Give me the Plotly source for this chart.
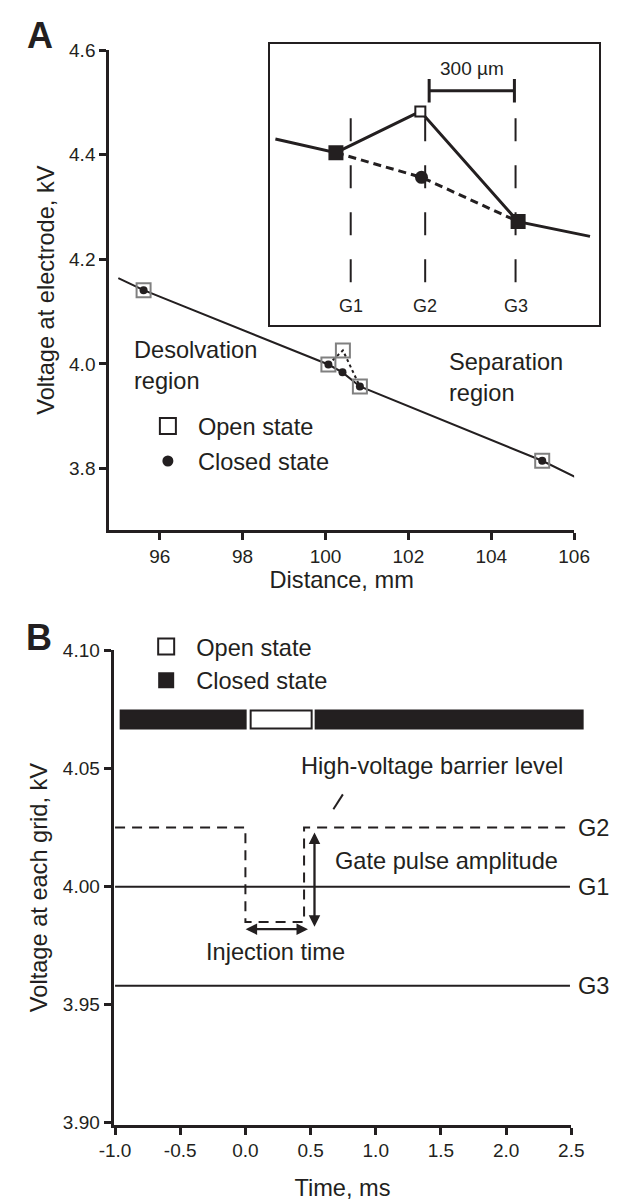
import plotly.graph_objects as go

W, H = 625, 1203
INK = "#231f20"
GRAY = "#808080"
FONT = "Liberation Sans, Arial, Helvetica, sans-serif"
FS = 23.6   # label text size
TFS = 19    # tick label size

# ---------------- Panel A data (distance, mm / voltage, kV) ----------------
a_line_x = [95.0, 95.61, 100.07, 100.41, 100.83, 105.23, 106.03]
a_line_y = [4.164, 4.141, 3.999, 3.984, 3.957, 3.815, 3.784]
a_open_x = [95.61, 100.07, 100.42, 100.83, 105.23]
a_open_y = [4.141, 3.999, 4.026, 3.957, 3.815]
a_closed_x = [95.61, 100.07, 100.41, 100.83, 105.23]
a_closed_y = [4.141, 3.999, 3.984, 3.957, 3.815]
a_gate_open_x = [100.07, 100.42, 100.83]
a_gate_open_y = [3.999, 4.026, 3.957]
a_xticks = [96, 98, 100, 102, 104, 106]
a_yticks = [3.8, 4.0, 4.2, 4.4, 4.6]

# ---------------- Inset data (position, um / relative level) ----------------
ins_solid_x = [-265, -52, 245, 589, 842]
ins_solid_y = [189, 175, 217, 105, 90]
ins_dash_x = [-52, 249, 589]
ins_dash_y = [175, 150, 105]
ins_grid_x = [0, 262, 580]
ins_grid_labels = ["G1", "G2", "G3"]
ins_grid_top, ins_grid_bottom = 210, 43
ins_closed_sq_x = [-52, 589]
ins_closed_sq_y = [175, 105]
ins_open_x, ins_open_y = [245], [217]
ins_dot_x, ins_dot_y = [249], [150]
ins_bar_x = [276, 576]          # 300 um scale bar
ins_bar_y, ins_bar_tick = 238, 12

# ---------------- Panel B data (time, ms / voltage, kV) ----------------
b_t_start, b_t_end = -1.0, 2.49
b_g1 = 4.000
b_g3 = 3.958
b_g2_x = [-1.0, 0.0, 0.0, 0.45, 0.45, 2.49]
b_g2_y = [4.025, 4.025, 3.985, 3.985, 4.025, 4.025]
state_start = [-0.96, 0.04, 0.54]
state_end = [0.0, 0.51, 2.59]
state_kind = ["closed", "open", "closed"]
state_level, state_thick = 4.0708, 0.0076
b_xticks = [-1.0, -0.5, 0.0, 0.5, 1.0, 1.5, 2.0, 2.5]
b_yticks = [3.90, 3.95, 4.00, 4.05, 4.10]


def px(x):
    return x / W


def py(y):
    return 1 - y / H


fig = go.Figure()

# ---- Panel A ----
fig.add_trace(go.Scatter(x=a_line_x, y=a_line_y, mode="lines",
                         line=dict(color=INK, width=2), showlegend=False,
                         xaxis="x", yaxis="y"))
fig.add_trace(go.Scatter(x=a_gate_open_x, y=a_gate_open_y, mode="lines",
                         line=dict(color=INK, width=2, dash="dot"), showlegend=False,
                         xaxis="x", yaxis="y"))
fig.add_trace(go.Scatter(x=a_open_x, y=a_open_y, mode="markers",
                         marker=dict(symbol="square-open", size=14, color=GRAY,
                                     line=dict(color=GRAY, width=2)),
                         showlegend=False, xaxis="x", yaxis="y"))
fig.add_trace(go.Scatter(x=a_closed_x, y=a_closed_y, mode="markers",
                         marker=dict(symbol="circle", size=8, color=INK),
                         showlegend=False, xaxis="x", yaxis="y"))
fig.add_trace(go.Scatter(x=[None], y=[None], mode="markers", name="Open state",
                         legendgroup="a_open",
                         marker=dict(symbol="square", size=17, color="white",
                                     line=dict(color=INK, width=2)),
                         legend="legend", xaxis="x", yaxis="y"))
fig.add_trace(go.Scatter(x=[None], y=[None], mode="markers", name="Closed state",
                         legendgroup="a_closed",
                         marker=dict(symbol="circle", size=11, color=INK),
                         legend="legend", xaxis="x", yaxis="y"))

# ---- Inset ----
gx, gy = [], []
for g in ins_grid_x:
    gx += [g, g, None]
    gy += [ins_grid_top, ins_grid_bottom, None]
fig.add_trace(go.Scatter(x=gx, y=gy, mode="lines",
                         line=dict(color=INK, width=2, dash="23px,24px"),
                         showlegend=False, xaxis="x3", yaxis="y3"))
fig.add_trace(go.Scatter(x=ins_dash_x, y=ins_dash_y, mode="lines",
                         line=dict(color=INK, width=3, dash="8px,5px"),
                         showlegend=False, xaxis="x3", yaxis="y3"))
fig.add_trace(go.Scatter(x=ins_solid_x, y=ins_solid_y, mode="lines",
                         line=dict(color=INK, width=3),
                         showlegend=False, xaxis="x3", yaxis="y3"))
fig.add_trace(go.Scatter(x=ins_closed_sq_x, y=ins_closed_sq_y, mode="markers",
                         marker=dict(symbol="square", size=15, color=INK),
                         showlegend=False, xaxis="x3", yaxis="y3"))
fig.add_trace(go.Scatter(x=ins_open_x, y=ins_open_y, mode="markers",
                         marker=dict(symbol="square", size=10, color="white",
                                     line=dict(color=INK, width=2)),
                         showlegend=False, xaxis="x3", yaxis="y3"))
fig.add_trace(go.Scatter(x=ins_dot_x, y=ins_dot_y, mode="markers",
                         marker=dict(symbol="circle", size=13, color=INK),
                         showlegend=False, xaxis="x3", yaxis="y3"))
bx0, bx1 = ins_bar_x
fig.add_trace(go.Scatter(
    x=[bx0, bx0, None, bx0, bx1, None, bx1, bx1],
    y=[ins_bar_y - ins_bar_tick, ins_bar_y + ins_bar_tick, None,
       ins_bar_y, ins_bar_y, None,
       ins_bar_y - ins_bar_tick, ins_bar_y + ins_bar_tick],
    mode="lines", line=dict(color=INK, width=3),
    showlegend=False, xaxis="x3", yaxis="y3"))

# ---- Panel B ----  (grid traces on the visible time axis x4)
fig.add_trace(go.Scatter(x=[b_t_start, b_t_end], y=[b_g1, b_g1], mode="lines",
                         line=dict(color=INK, width=2), showlegend=False,
                         xaxis="x4", yaxis="y2"))
fig.add_trace(go.Scatter(x=[b_t_start, b_t_end], y=[b_g3, b_g3], mode="lines",
                         line=dict(color=INK, width=2), showlegend=False,
                         xaxis="x4", yaxis="y2"))
fig.add_trace(go.Scatter(x=b_g2_x, y=b_g2_y, mode="lines",
                         line=dict(color=INK, width=2, dash="10px,7px"),
                         showlegend=False, xaxis="x4", yaxis="y2"))
# state bars on x2 (same px/ms scale as x4, but runs past 2.5 ms so the last bar is not cut)
fig.add_trace(go.Bar(
    orientation="h",
    y=[state_level] * len(state_start),
    base=state_start,
    x=[e - s for s, e in zip(state_start, state_end)],
    width=state_thick,
    marker=dict(color=[INK if k == "closed" else "white" for k in state_kind],
                line=dict(color=INK, width=2)),
    showlegend=False, xaxis="x2", yaxis="y2"))
fig.add_trace(go.Scatter(x=[None], y=[None], mode="markers", name="Open state",
                         marker=dict(symbol="square", size=17, color="white",
                                     line=dict(color=INK, width=2)),
                         legend="legend2", xaxis="x4", yaxis="y2"))
fig.add_trace(go.Scatter(x=[None], y=[None], mode="markers", name="Closed state",
                         marker=dict(symbol="square", size=17, color=INK,
                                     line=dict(color=INK, width=0)),
                         legend="legend2", xaxis="x4", yaxis="y2"))

axis_common = dict(showline=True, linewidth=3, linecolor=INK, ticks="outside",
                   ticklen=7, tickwidth=3, tickcolor=INK, showgrid=False,
                   zeroline=False, tickfont=dict(size=TFS, color=INK, family=FONT))

annotations = []


def label(text, x, y, xanchor="left", size=FS, xref="paper", yref="paper", **kw):
    annotations.append(dict(text=text, x=x, y=y, xref=xref, yref=yref,
                            xanchor=xanchor, yanchor="middle", showarrow=False,
                            font=dict(size=size, color=INK, family=FONT), **kw))


label("<b>A</b>", px(26.5), py(26), xanchor="center", size=36)
label("<b>B</b>", px(25.7), py(638), xanchor="center", size=36)
label("Desolvation<br>region", px(123), py(361.5), align="left")
label("Separation<br>region", px(455), py(373.8), align="left")
label("300 µm", (bx0 + bx1) / 2, ins_bar_y + 22.5, xanchor="center", size=19,
      xref="x3", yref="y3")
for g, t in zip(ins_grid_x, ins_grid_labels):
    label(t, g, 19.3, xanchor="center", size=18, xref="x3", yref="y3")
label("High-voltage barrier level", px(299), py(768.3))
label("Gate pulse amplitude", px(335), py(865))
label("Injection time", px(273.7), py(957.3), xanchor="center")
label("G1", px(590), b_g1, yref="y2")
label("G2", px(590), b_g2_y[-1], yref="y2")
label("G3", px(590), b_g3, yref="y2")

arrow = dict(xref="x4", yref="y2", axref="x4", ayref="y2", text="", showarrow=True,
             arrowside="end+start", arrowhead=2, startarrowhead=2, arrowsize=1.0,
             startarrowsize=1.0, arrowwidth=2.3, arrowcolor=INK, standoff=0,
             startstandoff=0)
annotations.append(dict(arrow, x=0.53, y=3.983, ax=0.53, ay=4.0235))
annotations.append(dict(arrow, x=0.48, y=3.982, ax=-0.01, ay=3.982))

shapes = [
    dict(type="line", xref="paper", yref="paper", x0=px(335), y0=py(812),
         x1=px(345), y1=py(797), line=dict(color=INK, width=2)),
]

B_L, B_R = 103.8, 585.3
B_XMIN, B_XMAX = -1.0109, 2.5
B_XMAX_DATA = 2.68
b_scale = (B_R - B_L) / (B_XMAX - B_XMIN)
B_R_DATA = B_L + (B_XMAX_DATA - B_XMIN) * b_scale

fig.update_layout(
    width=W, height=H, autosize=False,
    margin=dict(l=0, r=0, t=0, b=0),
    paper_bgcolor="white", plot_bgcolor="rgba(0,0,0,0)",
    font=dict(family=FONT, color=INK, size=FS),
    bargap=0,
    xaxis=dict(axis_common, domain=[px(99.2), px(588.3)], range=[94.782, 106],
               tickvals=a_xticks, ticktext=[str(v) for v in a_xticks], anchor="y",
               title=dict(text="Distance, mm", font=dict(size=FS), standoff=6)),
    yaxis=dict(axis_common, domain=[py(528.5), py(40.7)], range=[3.6824, 4.6],
               tickvals=a_yticks, ticktext=[f"{v:.1f}" for v in a_yticks], anchor="x",
               title=dict(text="Voltage at electrode, kV", font=dict(size=FS), standoff=8)),
    xaxis2=dict(domain=[px(B_L), px(B_R_DATA)], range=[B_XMIN, B_XMAX_DATA], anchor="y2",
                showline=False, showticklabels=False, ticks="", showgrid=False,
                zeroline=False),
    xaxis4=dict(axis_common, domain=[px(B_L), px(B_R)], range=[B_XMIN, B_XMAX],
                tickvals=b_xticks, ticktext=[f"{v:.1f}" for v in b_xticks], anchor="y2",
                title=dict(text="Time, ms", font=dict(size=FS), standoff=20)),
    yaxis2=dict(axis_common, domain=[py(1132.5), py(650.7)], range=[3.89925, 4.10],
                tickvals=b_yticks, ticktext=[f"{v:.2f}" for v in b_yticks], anchor="x2",
                title=dict(text="Voltage at each grid, kV", font=dict(size=FS), standoff=9)),
    xaxis3=dict(domain=[px(268), px(614)], range=[-285, 872], anchor="y3",
                showline=True, mirror=True, linewidth=2, linecolor=INK,
                showticklabels=False, ticks="", showgrid=False, zeroline=False),
    yaxis3=dict(domain=[py(320), py(35)], range=[0, 285], anchor="x3",
                showline=True, mirror=True, linewidth=2, linecolor=INK,
                showticklabels=False, ticks="", showgrid=False, zeroline=False),
    legend=dict(x=px(129.3), y=py(400.5), xanchor="left", yanchor="top",
                itemwidth=50, tracegroupgap=1.3, bgcolor="rgba(0,0,0,0)", borderwidth=0,
                font=dict(size=FS, color=INK, family=FONT)),
    legend2=dict(x=px(127.5), y=py(624.5), xanchor="left", yanchor="top",
                 itemwidth=50, bgcolor="rgba(0,0,0,0)", borderwidth=0,
                 font=dict(size=FS, color=INK, family=FONT)),
    annotations=annotations,
    shapes=shapes,
)

fig.write_html("out.html")
